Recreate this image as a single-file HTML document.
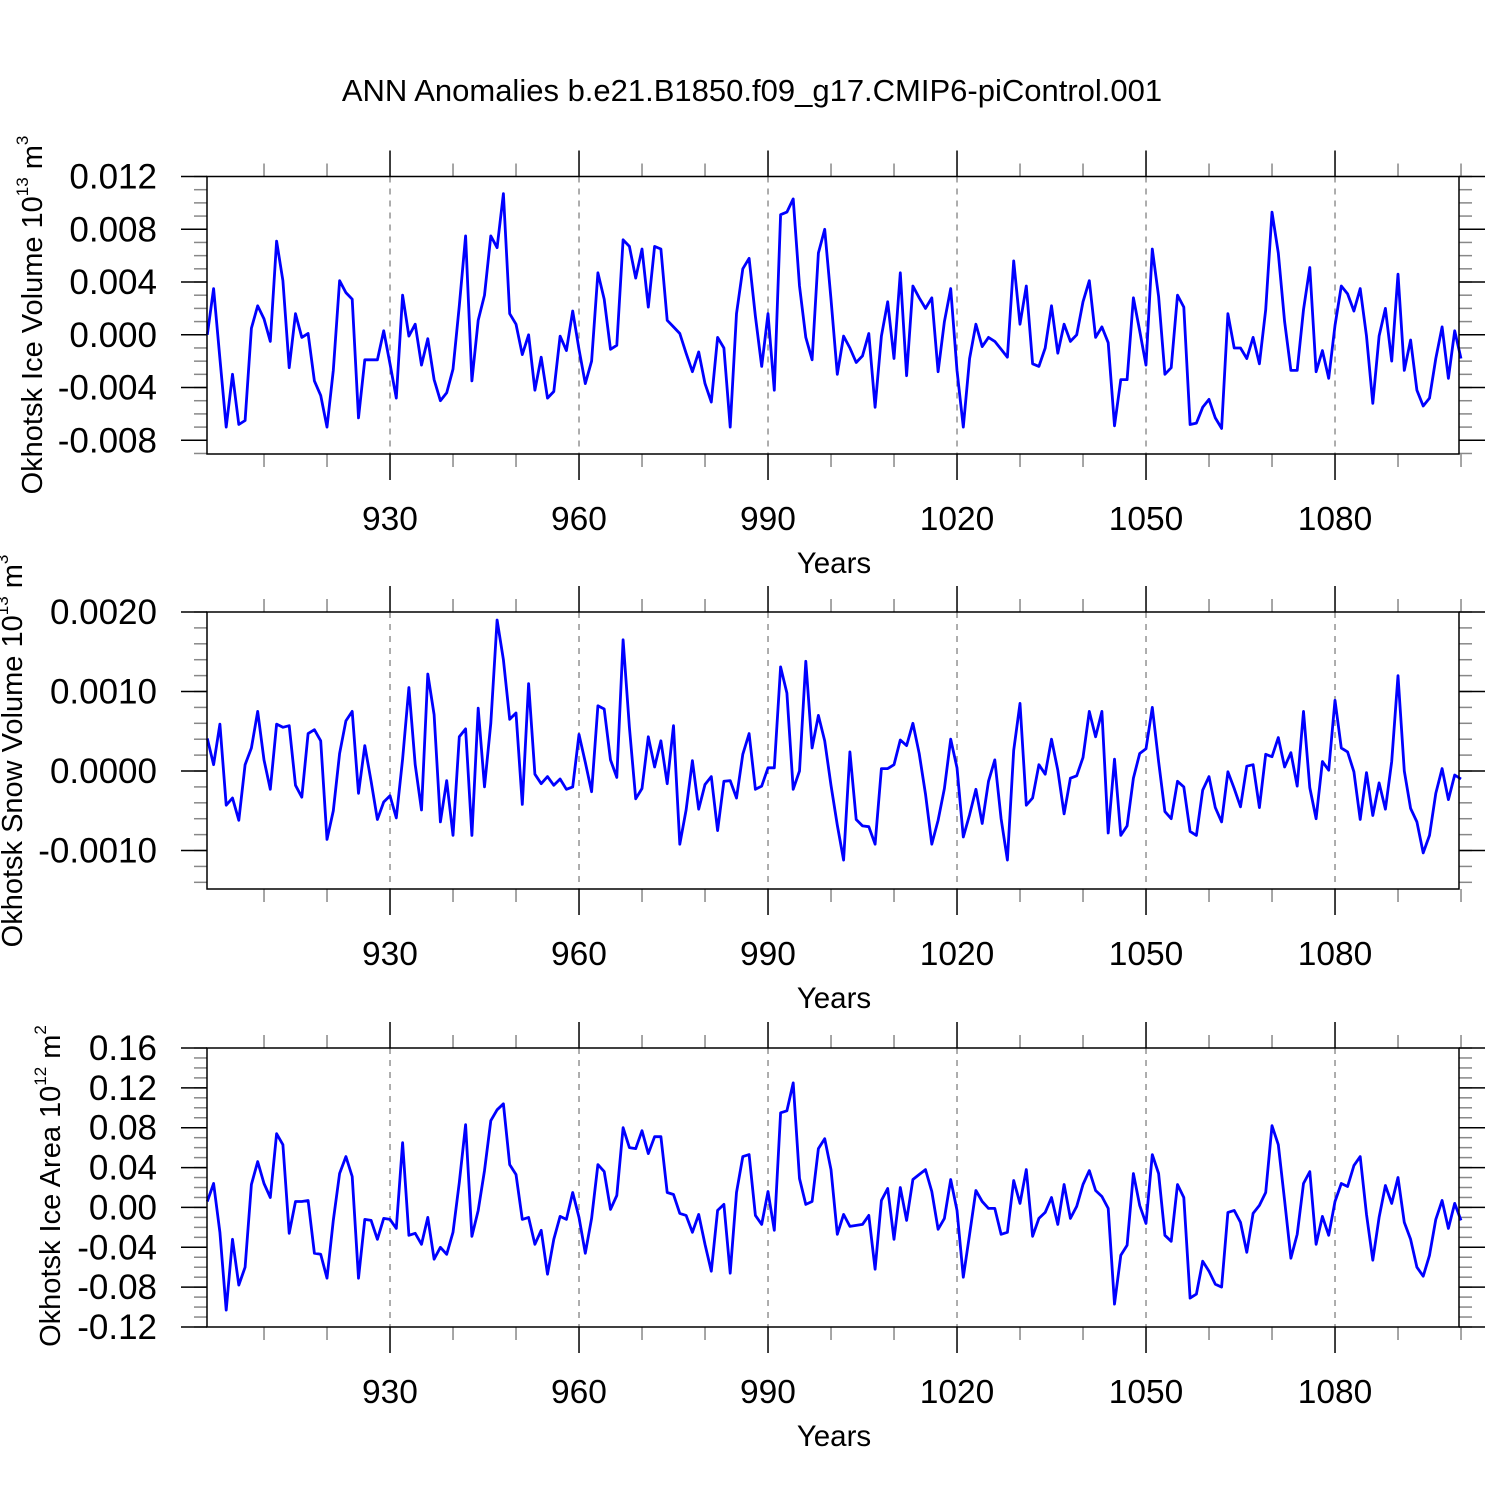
<!DOCTYPE html>
<html><head><meta charset="utf-8">
<style>
html,body{margin:0;padding:0;background:#fff;}
svg{display:block;font-family:"Liberation Sans",sans-serif;}
</style></head>
<body>
<svg id="chart" width="1500" height="1500" viewBox="0 0 1500 1500" xmlns="http://www.w3.org/2000/svg">
<rect width="1500" height="1500" fill="#fff"/>
<text x="752" y="101" font-size="31" text-anchor="middle">ANN Anomalies b.e21.B1850.f09_g17.CMIP6-piControl.001</text>
</svg>
<script>
// Years 901..1100
const startYear = 901;
// Ice volume anomalies (units of 0.001 x 10^13 m^3)
const iceVolume = [0,3.5,-1.8,-7.0,-3.0,-6.8,-6.5,0.5,2.2,1.2,-0.5,7.1,4.1,-2.5,1.6,-0.2,0.1,-3.5,-4.6,-7.0,-2.7,4.1,3.2,2.7,-6.3,-1.9,-1.9,-1.9,0.3,-2.2,-4.8,3.0,-0.1,0.8,-2.3,-0.3,-3.4,-5.0,-4.4,-2.6,2.2,7.5,-3.5,1.1,3.0,7.5,6.6,10.7,1.6,0.8,-1.5,0,-4.2,-1.7,-4.8,-4.3,-0.1,-1.2,1.8,-1.1,-3.7,-2.0,4.7,2.7,-1.1,-0.8,7.2,6.7,
4.3,6.5,2.1,6.7,6.5,1.1,0.6,0.1,-1.4,-2.8,-1.3,-3.7,-5.1,-0.2,-1.0,-7.0,1.6,5.0,5.8,1.4,-2.4,1.6,-4.2,9.1,9.3,10.3,3.7,-0.2,-1.9,6.2,8.0,2.7,-3.0,-0.1,-1.0,-2.1,-1.6,0.1,-5.5,-0.1,2.5,-1.8,4.7,-3.1,3.7,2.8,2.0,2.8,-2.8,1.0,3.5,-2.7,-7.0,-1.8,0.8,-0.9,-0.2,-0.5,-1.1,-1.7,5.6,0.8,3.7,-2.2,-2.4,-1.0,2.2,
-1.4,0.8,-0.5,0,2.5,4.1,-0.2,0.6,-0.6,-6.9,-3.4,-3.4,2.8,0.3,-2.3,6.5,2.9,-3.0,-2.5,3.0,2.1,-6.8,-6.7,-5.5,-4.9,-6.3,-7.1,1.6,-1.0,-1.0,-1.8,-0.2,-2.2,1.9,9.3,6.2,1.0,-2.7,-2.7,1.9,5.1,-2.8,-1.2,-3.3,0.7,3.7,3.1,1.8,3.5,-0.1,-5.2,-0.1,2.0,-2.0,4.6,-2.7,-0.4,-4.2,-5.4,-4.8,-1.8,0.6,-3.3,0.3,-1.8];
// Snow volume anomalies (units of 0.0001 x 10^13 m^3)
const snowVolume = [4.1,0.8,5.9,-4.3,-3.4,-6.2,0.8,2.9,7.5,1.4,-2.3,5.9,5.5,5.7,-1.8,-3.3,4.7,5.2,3.8,-8.6,-5.0,2.2,6.3,7.5,-2.8,3.2,-1.3,-6.1,-3.9,-3.1,-5.9,1.5,10.5,0.8,-4.9,12.2,7.1,-6.4,-1.2,-8.1,4.3,5.3,-8.1,7.9,-2.0,6.0,19.0,14.0,6.5,7.3,-4.2,11.0,-0.4,-1.6,-0.7,-1.8,-1.0,-2.3,-2.0,4.6,1.1,-2.6,8.2,7.8,1.4,-0.8,16.5,5.5,
-3.5,-2.2,4.3,0.5,3.8,-1.6,5.7,-9.2,-4.9,1.3,-4.8,-1.7,-0.7,-7.5,-1.3,-1.2,-3.4,2.1,4.7,-2.3,-1.9,0.4,0.4,13.1,9.8,-2.3,0,13.8,2.9,7.0,3.8,-1.8,-6.8,-11.2,2.4,-6.1,-6.9,-7.0,-9.2,0.3,0.3,0.8,3.9,3.2,6.0,2.2,-2.9,-9.2,-6.2,-2.2,4.0,0.4,-8.3,-5.5,-2.3,-6.6,-1.3,1.4,-6.0,-11.2,2.6,8.5,-4.3,-3.4,0.8,-0.4,4.0,
0.1,-5.4,-0.9,-0.6,1.7,7.5,4.3,7.5,-7.8,1.5,-8.1,-6.9,-0.9,2.2,2.8,8.0,1.2,-5.1,-6.0,-1.3,-2.0,-7.6,-8.1,-2.4,-0.7,-4.6,-6.4,-0.1,-2.2,-4.5,0.6,0.8,-4.6,2.1,1.8,4.2,0.5,2.3,-1.9,7.5,-2.1,-6.0,1.2,0.1,8.9,2.9,2.4,-0.1,-6.1,-0.2,-5.6,-1.5,-4.8,1.2,12.0,0,-4.7,-6.4,-10.3,-8.1,-2.8,0.3,-3.6,-0.5,-1.0];
// Ice area anomalies (units of 0.01 x 10^12 m^2)
const iceArea = [0.6,2.4,-2.5,-10.3,-3.2,-7.8,-6.0,2.3,4.6,2.4,1.0,7.4,6.3,-2.6,0.6,0.6,0.7,-4.6,-4.7,-7.1,-1.3,3.4,5.1,3.1,-7.1,-1.2,-1.3,-3.2,-1.1,-1.2,-2.1,6.5,-2.8,-2.6,-3.7,-1.0,-5.2,-4.0,-4.7,-2.5,2.5,8.3,-2.9,-0.3,3.7,8.7,9.8,10.4,4.3,3.3,-1.2,-1.0,-3.7,-2.3,-6.7,-3.2,-0.9,-1.2,1.5,-1.0,-4.6,-1.1,4.3,3.6,-0.2,1.2,8.0,6.0,
5.9,7.7,5.4,7.1,7.1,1.5,1.3,-0.6,-0.8,-2.5,-0.7,-3.7,-6.4,-0.3,0.3,-6.6,1.5,5.1,5.3,-0.8,-1.7,1.6,-2.3,9.5,9.7,12.5,2.9,0.3,0.6,5.9,6.9,3.8,-2.7,-0.7,-1.9,-1.8,-1.7,-0.8,-6.2,0.7,1.9,-3.2,2.0,-1.3,2.8,3.3,3.8,1.6,-2.2,-1.1,2.8,-0.3,-7.0,-2.7,1.7,0.6,-0.1,-0.1,-2.7,-2.5,2.7,0.4,3.8,-2.9,-1.1,-0.5,1.0,
-1.7,2.3,-1.1,0.1,2.3,3.7,1.7,1.1,-0.1,-9.7,-4.8,-3.8,3.4,0.2,-1.6,5.3,3.4,-2.8,-3.4,2.3,1.0,-9.1,-8.7,-5.4,-6.4,-7.7,-8.0,-0.5,-0.3,-1.5,-4.5,-0.6,0.2,1.5,8.2,6.3,0.7,-5.1,-2.7,2.4,3.6,-3.7,-0.9,-2.8,0.6,2.4,2.1,4.2,5.1,-0.7,-5.3,-1.0,2.2,0.4,3.0,-1.5,-3.2,-6.0,-6.9,-4.8,-1.2,0.7,-2.1,0.4,-1.3];
const xTickYears = [930,960,990,1020,1050,1080];
const p1Ticks = [0.012,0.008,0.004,0.000,-0.004,-0.008];
const p1Labels = ["0.012","0.008","0.004","0.000","-0.004","-0.008"];
const p2Ticks = [0.002,0.001,0,-0.001];
const p2Labels = ["0.0020","0.0010","0.0000","-0.0010"];
const p3Ticks = [0.16,0.12,0.08,0.04,0,-0.04,-0.08,-0.12];
const p3Labels = ["0.16","0.12","0.08","0.04","0.00","-0.04","-0.08","-0.12"];

const NS = "http://www.w3.org/2000/svg";
const svg = document.getElementById('chart');
function mk(tag, attrs, parent){
  const e = document.createElementNS(NS, tag);
  for (const k in attrs) e.setAttribute(k, attrs[k]);
  (parent||svg).appendChild(e);
  return e;
}
const X0 = 207, X1 = 1459;
function xScale(yr){ return X0 + (yr - 900.95) * 6.3; }

function panel(cfg){
  const g = mk('g', {});
  
  
  const yS = v => cfg.top + (cfg.ymax - v) / (cfg.ymax - cfg.ymin) * (cfg.bot - cfg.top);
  xTickYears.forEach(yr => {
    const gl = mk('line', {x1:xScale(yr), x2:xScale(yr), y1:cfg.top, y2:cfg.bot, stroke:'#777', 'stroke-width':1.2, 'stroke-dasharray':'6,6'}, g);
    
    
  });
  for (let yr = 910; yr <= 1100; yr += 10) {
    const x = xScale(yr);
    const major = (yr % 30 === 0);
    const L = major ? 26 : 13;
    const c = major ? '#000' : '#888';
    mk('line', {x1:x, x2:x, y1:cfg.top - L, y2:cfg.top, stroke:c, 'stroke-width':1.5}, g);
    mk('line', {x1:x, x2:x, y1:cfg.bot, y2:cfg.bot + L, stroke:c, 'stroke-width':1.5}, g);
  }
  const nMin = Math.round((cfg.ymax - cfg.ymin) / cfg.minor);
  for (let i = 0; i <= nMin + 1; i++) {
    const v = cfg.ymax - i * cfg.minor;
    const y = yS(v);
    if (y > cfg.bot + 0.5) break;
    mk('line', {x1:X0 - 13, x2:X0, y1:y, y2:y, stroke:'#888', 'stroke-width':1.5}, g);
    mk('line', {x1:X1, x2:X1 + 13, y1:y, y2:y, stroke:'#888', 'stroke-width':1.5}, g);
  }
  cfg.ticks.forEach((v, i) => {
    const y = yS(v);
    mk('line', {x1:X0 - 26, x2:X0, y1:y, y2:y, stroke:'#000', 'stroke-width':1.5}, g);
    mk('line', {x1:X1, x2:X1 + 26, y1:y, y2:y, stroke:'#000', 'stroke-width':1.5}, g);
    const t = mk('text', {x:157, y:y + 12, 'font-size':35, 'text-anchor':'end'}, g);
    
    
    t.textContent = cfg.labels[i];
  });
  xTickYears.forEach(yr => {
    const t = mk('text', {x:xScale(yr), y:cfg.bot + 76, 'font-size':33.5, 'text-anchor':'middle'}, g);
    
    
    t.textContent = String(yr);
  });
  const xt = mk('text', {x:834, y:cfg.bot + 119, 'font-size':29.5, 'text-anchor':'middle'}, g);
  
  
  xt.textContent = 'Years';
  const yt = mk('text', {transform:`translate(${cfg.ytx},${cfg.yty}) rotate(-90)`, 'font-size':29, 'text-anchor':'middle'}, g);
  
  
  yt.appendChild(document.createTextNode(cfg.ytitle + ' 10'));
  const s1 = mk('tspan', {'font-size':17, dy:-14}, yt); s1.textContent = cfg.exp1;
  const s2 = mk('tspan', {dy:14}, yt); s2.textContent = ' m';
  const s3 = mk('tspan', {'font-size':17, dy:-14}, yt); s3.textContent = cfg.exp2;
  const pts = cfg.data.map((v, i) => xScale(startYear + i).toFixed(1) + ',' + yS(v * cfg.unit).toFixed(1)).join(' ');
  const pl = mk('polyline', {points:pts, fill:'none', stroke:'#0000ff', 'stroke-width':2.8, 'stroke-linejoin':'round'}, g);
  
  
  const fr = mk('rect', {x:X0, y:cfg.top, width:X1 - X0, height:cfg.bot - cfg.top, fill:'none', stroke:'#000', 'stroke-width':1.5}, g);
  
  
}

panel({name:'ice-volume-panel', seriesName:'ice-volume-line', top:176.5, bot:454, ymax:0.012, ymin:-0.00904, minor:0.001,
  ticks:p1Ticks, labels:p1Labels, data:iceVolume, unit:0.001, ytitle:'Okhotsk Ice Volume', exp1:'13', exp2:'3', ytx:42, yty:315});
panel({name:'snow-volume-panel', seriesName:'snow-volume-line', top:612, bot:889, ymax:0.002, ymin:-0.001484, minor:0.0002,
  ticks:p2Ticks, labels:p2Labels, data:snowVolume, unit:0.0001, ytitle:'Okhotsk Snow Volume', exp1:'13', exp2:'3', ytx:22, yty:751});
panel({name:'ice-area-panel', seriesName:'ice-area-line', top:1048, bot:1327, ymax:0.16, ymin:-0.12, minor:0.01,
  ticks:p3Ticks, labels:p3Labels, data:iceArea, unit:0.01, ytitle:'Okhotsk Ice Area', exp1:'12', exp2:'2', ytx:60, yty:1186});
</script>
</body></html>
